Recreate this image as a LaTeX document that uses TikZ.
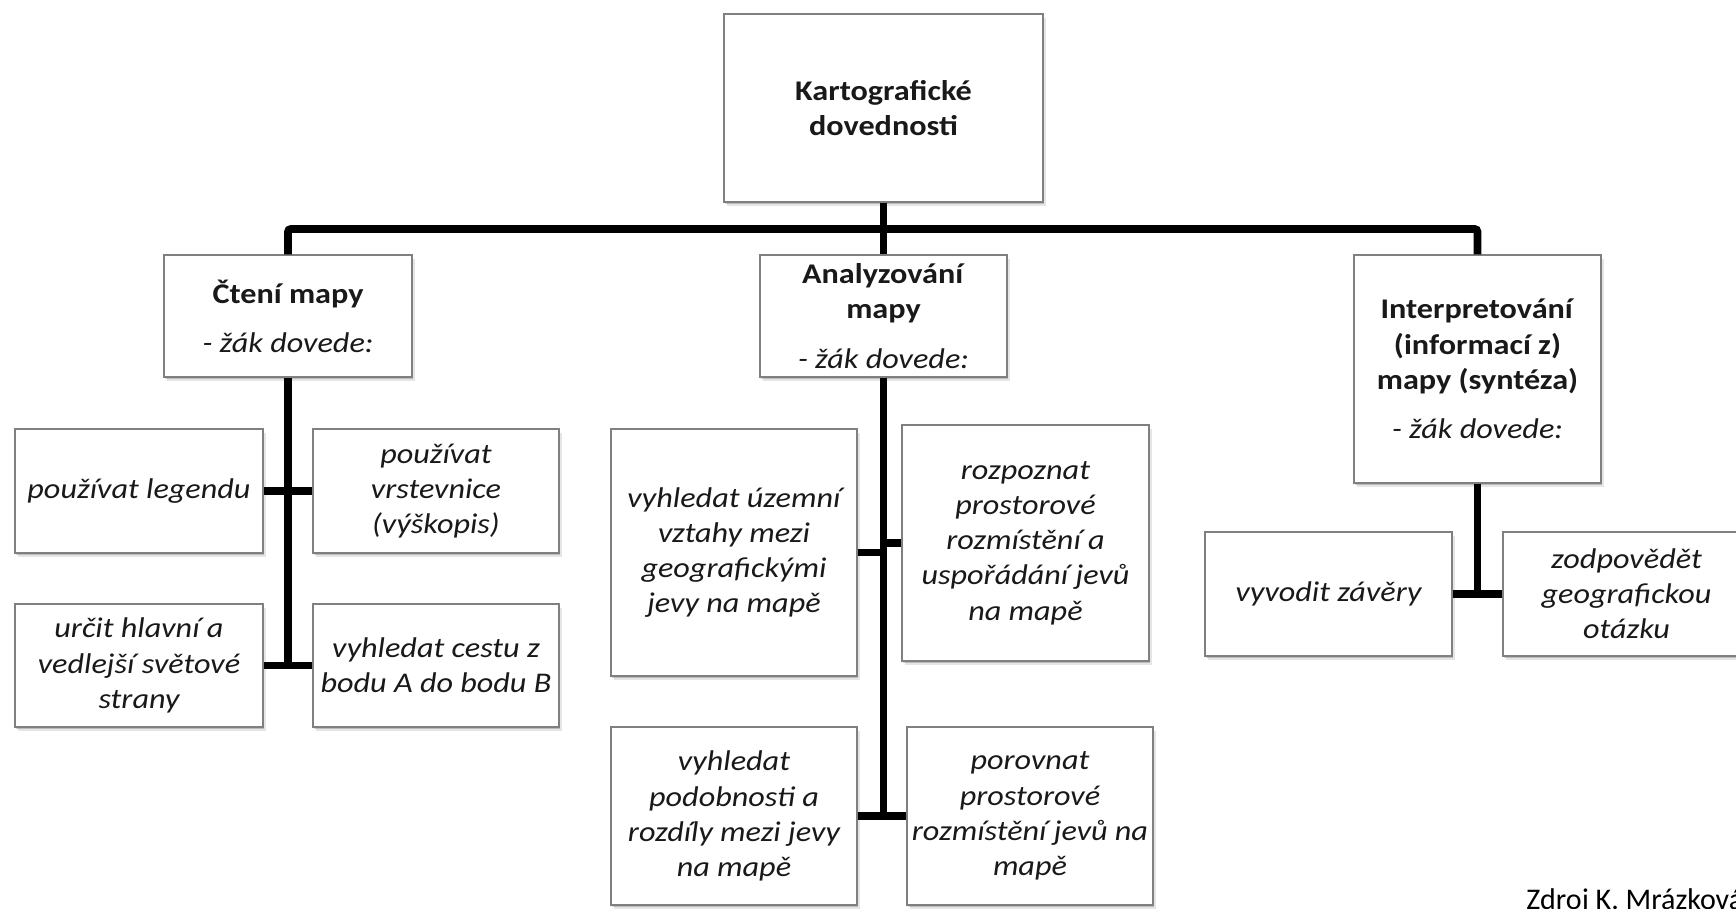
\documentclass[tikz,border=0pt]{standalone}
\usepackage{fontspec}
\setmainfont{Carlito}[FakeStretch=1.13]
\newfontfamily\notefont{Carlito}
\usetikzlibrary{shadows}
\begin{document}
\begin{tikzpicture}[x=0.5pt,y=-0.5pt,
  box/.style={draw=black!50, line width=0.7pt, fill=white, inner sep=0pt,
    align=center, text=black!90,
    font=\fontsize{14.25pt}{17.6pt}\selectfont,
    drop shadow={shadow xshift=1.4pt, shadow yshift=-2.2pt, fill=black, opacity=0.10},
    drop shadow={shadow xshift=0.7pt, shadow yshift=-1.2pt, fill=black, opacity=0.18}},
  head/.style={box, font=\fontsize{14.25pt}{17.6pt}\selectfont\bfseries},
  leaf/.style={box, font=\fontsize{14.25pt}{17.6pt}\selectfont\itshape},
  link/.style={line width=3.9pt, draw=black},
]
\useasboundingbox (0,0) rectangle (1736,909);

% root
\node[head, minimum width=159.5pt, minimum height=94pt] (top) at (883.5,108)
  {Kartografické\\dovednosti};

% second level
\node[box, minimum width=124pt, minimum height=61pt] (cteni) at (288,316)
  {\textbf{Čtení mapy}\\[7pt]\textit{- žák dovede:}};
\node[box, minimum width=123.5pt, minimum height=61pt] (analyz) at (883.5,316)
  {\textbf{Analyzování}\\\textbf{mapy}\\[7pt]\textit{- žák dovede:}};
\node[box, minimum width=123.5pt, minimum height=114pt] (interp) at (1477.5,369)
  {\textbf{Interpretování}\\\textbf{(informací z)}\\\textbf{mapy (syntéza)}\\[7pt]\textit{- žák dovede:}};

% reading the map
\node[leaf, minimum width=124pt, minimum height=62pt] (legenda) at (139,491)
  {používat legendu};
\node[leaf, minimum width=123pt, minimum height=62pt] (vrstev) at (436,491)
  {používat\\vrstevnice\\(výškopis)};
\node[leaf, minimum width=124pt, minimum height=61.5pt] (strany) at (139,665.5)
  {určit hlavní a\\vedlejší světové\\strany};
\node[leaf, minimum width=123pt, minimum height=61.5pt] (cesta) at (436,665.5)
  {vyhledat cestu z\\bodu A do bodu B};

% analysing the map
\node[leaf, minimum width=123pt, minimum height=123.5pt] (uzemi) at (734,552.5)
  {vyhledat územní\\vztahy mezi\\geografickými\\jevy na mapě};
\node[leaf, minimum width=123.5pt, minimum height=118pt] (rozpoz) at (1025.5,543)
  {rozpoznat\\prostorové\\rozmístění a\\uspořádání jevů\\na mapě};
\node[leaf, minimum width=123pt, minimum height=89pt] (podob) at (734,816)
  {vyhledat\\podobnosti a\\rozdíly mezi jevy\\na mapě};
\node[leaf, minimum width=123pt, minimum height=89pt] (porov) at (1030,816)
  {porovnat\\prostorové\\rozmístění jevů na\\mapě};

% interpreting the map
\node[leaf, minimum width=123.5pt, minimum height=62pt] (zavery) at (1328.5,594)
  {vyvodit závěry};
\node[leaf, minimum width=123.5pt, minimum height=62pt] (otazka) at (1626.5,594)
  {zodpovědět\\geografickou\\otázku};

% tree connectors
\coordinate (hub) at (883.5,229);
\draw[link] (top.south) -- (analyz.north);
\draw[link, rounded corners=1.5pt] (cteni.north) |- (interp.north |- hub) -- (interp.north);

\draw[link] (cteni.south) -- (cteni.south |- strany.east);
\draw[link] (legenda.east) -- (vrstev.west);
\draw[link] (strany.east) -- (cesta.west);

\draw[link] (analyz.south) -- (analyz.south |- podob.east);
\draw[link] (uzemi.east) -- (uzemi.east -| analyz.south);
\draw[link] (rozpoz.west) -- (rozpoz.west -| analyz.south);
\draw[link] (podob.east) -- (porov.west);

\draw[link] (interp.south) -- (interp.south |- zavery.east);
\draw[link] (zavery.east) -- (otazka.west);

% source note
\node[anchor=base west, inner sep=0pt, font=\notefont\fontsize{15pt}{18pt}\selectfont] (zdroj)
  at (1526,909) {Zdroj K. Mrázková};
\end{tikzpicture}
\end{document}
